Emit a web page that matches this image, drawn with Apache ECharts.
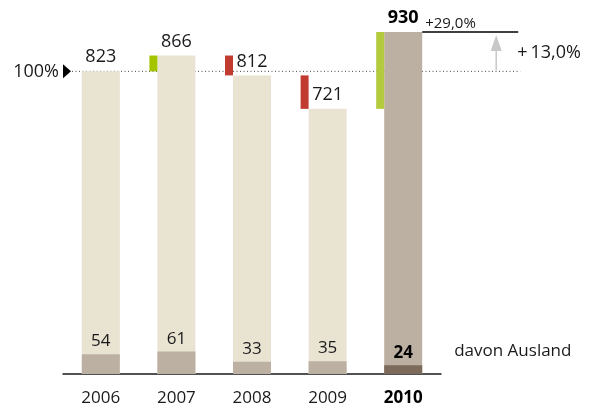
<!DOCTYPE html>
<html>
<head>
<meta charset="utf-8">
<script src="https://cdn.jsdelivr.net/npm/echarts@6/dist/echarts.min.js"></script>
<style>
  html, body { margin: 0; padding: 0; background: #fff; }
  #chart { width: 592px; height: 410px; }
</style>
</head>
<body>
<div id="chart"></div>
<script>
// Umsatz je Jahr, davon Ausland
const years = ['2006', '2007', '2008', '2009', '2010'];
const totals = [823, 866, 812, 721, 930];
const foreign = [54, 61, 33, 35, 24];
const baseIndex = 0;            // 100 % reference year
const lastIndex = years.length - 1;

const FONT = '"Open Sans", "Noto Sans", sans-serif';
const TEXT = '#1a1a1a';
const BEIGE = '#e9e3d2';
const TAUPE = '#bcb0a2';
const BROWN = '#7c6a5a';
const GREEN = '#a5c400';
const GREEN_LIGHT = '#b3cb3c';
const RED = '#c13b31';

function pct(v) {
  return (v >= 0 ? '+' : '\u2212') + Math.abs(v * 100).toFixed(1).replace('.', ',') + '%';
}

// year-on-year change markers: [index, previous total, current total]
const changes = [];
for (let i = 1; i < totals.length; i++) changes.push([i, totals[i - 1], totals[i]]);

const chart = echarts.init(document.getElementById('chart'), null, { renderer: 'canvas' });

chart.setOption({
  animation: false,
  textStyle: { fontFamily: FONT },
  grid: { left: 63, right: 151, top: 32, bottom: 36 },
  xAxis: {
    type: 'category',
    data: years,
    axisTick: { show: false },
    axisLine: { lineStyle: { color: '#1a1a1a', width: 1.5 } },
    axisLabel: {
      interval: 0,
      margin: 16,
      fontSize: 17,
      color: TEXT,
      fontFamily: FONT,
      formatter: (v, i) => i === lastIndex ? '{b|' + v + '}' : v,
      rich: { b: { fontWeight: 'bold', fontSize: 17, color: '#000', fontFamily: FONT } }
    }
  },
  yAxis: { type: 'value', min: 0, max: 930, show: false },
  series: [
    {
      name: 'Umsatz',
      type: 'bar',
      barWidth: 38,
      barGap: '-100%',
      z: 2,
      data: totals.map((v, i) => ({
        value: v,
        itemStyle: { color: i === lastIndex ? TAUPE : BEIGE },
        label: i === lastIndex ? { fontWeight: 'bold', color: '#000' } : {}
      })),
      label: {
        show: true,
        position: 'top',
        distance: 5,
        fontSize: 18,
        color: TEXT,
        fontFamily: FONT
      }
    },
    {
      name: 'davon Ausland',
      type: 'bar',
      barWidth: 38,
      barGap: '-100%',
      z: 3,
      data: foreign.map((v, i) => ({
        value: v,
        itemStyle: { color: i === lastIndex ? BROWN : TAUPE },
        label: i === lastIndex ? { fontWeight: 'bold', color: '#000' } : {}
      })),
      label: {
        show: true,
        position: 'top',
        distance: 4,
        fontSize: 17,
        color: TEXT,
        fontFamily: FONT
      }
    },
    {
      name: 'Veränderung',
      type: 'custom',
      z: 4,
      data: changes,
      renderItem: function (params, api) {
        const idx = api.value(0);
        const from = api.value(1);
        const to = api.value(2);
        const p1 = api.coord([idx, from]);
        const p2 = api.coord([idx, to]);
        const x = p1[0] - 19 - 8;   // just left of the 38px bar
        const y = Math.min(p1[1], p2[1]);
        const h = Math.abs(p1[1] - p2[1]);
        let color = to >= from ? GREEN : RED;
        if (idx === lastIndex && to >= from) color = GREEN_LIGHT;
        return { type: 'rect', shape: { x: x, y: y, width: 8, height: h }, style: { fill: color } };
      }
    }
  ]
});

// Reference annotations (100 % line, growth arrow), positioned from the axes
const base = chart.convertToPixel({ seriesIndex: 0 }, [baseIndex, totals[baseIndex]]);
const last = chart.convertToPixel({ seriesIndex: 0 }, [lastIndex, totals[lastIndex]]);
const lastForeign = chart.convertToPixel({ seriesIndex: 1 }, [lastIndex, foreign[lastIndex]]);
const barRight = last[0] + 19;
const lineEnd = barRight + 96;
const arrowX = barRight + 74;

const growthTotal = totals[lastIndex] / totals[baseIndex] - 1;
const growthPrev = totals[lastIndex] / totals[lastIndex - 1] - 1;

chart.setOption({
  graphic: [
    { // 100 % dotted reference line
      type: 'line', z: 1,
      shape: { x1: 72, y1: base[1], x2: lineEnd + 2, y2: base[1] },
      style: { stroke: '#444', lineWidth: 1, lineDash: [1, 2.5] }
    },
    { // marker triangle
      type: 'polygon', z: 5,
      shape: { points: [[63, base[1] - 7], [71, base[1]], [63, base[1] + 7]] },
      style: { fill: '#000' }
    },
    {
      type: 'text', z: 5,
      style: {
        x: 59, y: base[1] + 1, text: '100%', align: 'right', verticalAlign: 'middle',
        font: '18px ' + FONT, fill: TEXT
      }
    },
    { // level of the latest year
      type: 'line', z: 5,
      shape: { x1: barRight, y1: last[1], x2: lineEnd, y2: last[1] },
      style: { stroke: '#000', lineWidth: 1.5 }
    },
    { // growth arrow shaft
      type: 'line', z: 5,
      shape: { x1: arrowX, y1: base[1] - 1, x2: arrowX, y2: last[1] + 14 },
      style: { stroke: '#c8c8c8', lineWidth: 1.5 }
    },
    { // growth arrow head
      type: 'polygon', z: 5,
      shape: { points: [[arrowX, last[1] + 3], [arrowX + 5.5, last[1] + 19], [arrowX - 5.5, last[1] + 19]] },
      style: { fill: '#c8c8c8' }
    },
    {
      type: 'text', z: 5,
      style: {
        x: lineEnd - 1, y: (last[1] + base[1]) / 2 + 1, text: pct(growthTotal).replace('+', '+\u2009'),
        align: 'left', verticalAlign: 'middle',
        font: '18px ' + FONT, fill: TEXT
      }
    },
    {
      type: 'text', z: 5,
      style: {
        x: barRight + 3, y: last[1] - 8, text: pct(growthPrev), align: 'left', verticalAlign: 'middle',
        font: '15px ' + FONT, fill: TEXT
      }
    },
    {
      type: 'text', z: 5,
      style: {
        x: barRight + 32, y: lastForeign[1] - 14,
        text: 'davon Ausland', align: 'left', verticalAlign: 'middle',
        font: '17px ' + FONT, fill: TEXT
      }
    }
  ]
});
</script>
</body>
</html>
